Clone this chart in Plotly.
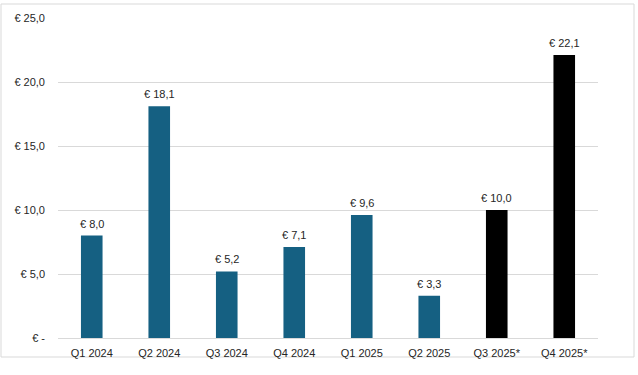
import plotly.graph_objects as go

categories = ["Q1 2024", "Q2 2024", "Q3 2024", "Q4 2024", "Q1 2025", "Q2 2025", "Q3 2025*", "Q4 2025*"]
values = [8.0, 18.1, 5.2, 7.1, 9.6, 3.3, 10.0, 22.1]
bar_colors = ["#156082"] * 6 + ["#000000"] * 2
value_labels = ["€ " + f"{v:.1f}".replace(".", ",") for v in values]
tick_vals = [0, 5, 10, 15, 20, 25]
tick_text = ["€ -", "€ 5,0", "€ 10,0", "€ 15,0", "€ 20,0", "€ 25,0"]

font_family = "Liberation Sans, Arial, sans-serif"
text_color = "#262626"

fig = go.Figure(
    go.Bar(
        x=categories,
        y=values,
        marker=dict(color=bar_colors, line=dict(width=0)),
        hoverinfo="skip",
        cliponaxis=False,
    )
)

for cat, val, lab in zip(categories, values, value_labels):
    fig.add_annotation(
        x=cat,
        y=val,
        text=lab,
        showarrow=False,
        xanchor="center",
        yanchor="bottom",
        yshift=4,
        font=dict(family=font_family, size=11, color=text_color),
    )

W, H = 638, 375
ml, mr, mt, mb = 58, 40, 18, 37
pw, ph = W - ml - mr, H - mt - mb

fig.update_layout(
    width=W,
    height=H,
    margin=dict(l=ml, r=mr, t=mt, b=mb),
    paper_bgcolor="white",
    plot_bgcolor="white",
    bargap=0.68,
    showlegend=False,
    font=dict(family=font_family, size=11, color=text_color),
    xaxis=dict(
        showgrid=False,
        showline=True,
        linecolor="#d9d9d9",
        linewidth=1,
        ticks="",
        ticklabelstandoff=5,
        tickfont=dict(size=11, color=text_color),
    ),
    yaxis=dict(
        range=[0, 25],
        tickvals=tick_vals,
        ticktext=tick_text,
        showgrid=True,
        gridcolor="#d9d9d9",
        gridwidth=1,
        zeroline=False,
        showline=False,
        ticks="",
        ticklabelstandoff=12,
        tickfont=dict(size=11, color=text_color),
    ),
    shapes=[
        dict(
            type="rect",
            xref="paper",
            yref="paper",
            x0=(1 - ml) / pw,
            x1=(634 - ml) / pw,
            y0=(H - mb - 357) / ph,
            y1=(H - mb - 4) / ph,
            line=dict(color="#d9d9d9", width=1),
            fillcolor="rgba(0,0,0,0)",
            layer="below",
        )
    ],
)

fig.write_html(
    "out.html",
    config={"displayModeBar": False},
    post_script="document.body.style.margin='0px';document.body.style.overflow='hidden';",
)
